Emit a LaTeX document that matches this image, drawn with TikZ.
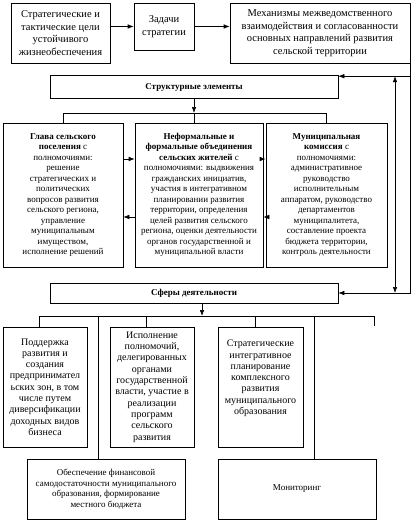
\documentclass[tikz,border=0pt]{standalone}
\usepackage{fontspec}
\setmainfont{Liberation Serif}
\usetikzlibrary{arrows.meta}
\usetikzlibrary{math}

\begin{document}
\begin{tikzpicture}[x=1pt,y=-1pt,
  box/.style={draw, line width=0.6pt, inner sep=1pt, align=center, font=\fontsize{9}{10.5}\selectfont},
  topbox/.style={box, font=\fontsize{10.5}{12.5}\selectfont},
  lowbox/.style={box, font=\fontsize{10}{11.3}\selectfont},
  conn/.style={line width=0.6pt},
  arr/.style={conn,-{Latex[length=6pt,width=4.5pt]}}]
\tikzmath{
\yS=113;%bus under structure
\yF=316;%bus under spheres
\xV=395;%feedback line
}
\useasboundingbox (0,0) rectangle (414,522);

% top row
\node[topbox, minimum width=99pt, minimum height=60pt] (goals) at (60.5,33) {Стратегические и\\тактические цели\\устойчивого\\жизнеобеспечения};
\node[topbox, minimum width=60pt, minimum height=47pt] (tasks) at (164,26.5) {Задачи\\стратегии};
\node[topbox, minimum width=180pt, minimum height=60pt] (mech) at (320,33) {Механизмы межведомственного\\взаимодействия и согласованности\\основных направлений развития\\сельской территории};

\draw[arr] (goals.east |- tasks.west) -- (tasks.west);
\draw[arr] (tasks.east) -- (tasks.east -| mech.west);

% structure
\node[box, minimum width=288pt, minimum height=23pt, font=\fontsize{9}{10.5}\selectfont\bfseries] (struct) at (194,87) {Структурные элементы};

\node[box, minimum width=120pt, minimum height=144pt] (glava) at (63,195) {\textbf{Глава сельского}\\\textbf{поселения} с\\полномочиями:\\решение\\стратегических и\\политических\\вопросов развития\\сельского региона,\\управление\\муниципальным\\имуществом,\\исполнение решений};
\node[box, minimum width=128pt, minimum height=144pt] (obyed) at (199,195) {\textbf{Неформальные и}\\\textbf{формальные объединения}\\\textbf{сельских жителей} с\\полномочиями: выдвижения\\гражданских инициатив,\\участия в интегративном\\планировании развития\\территории, определения\\целей развития сельского\\региона, оценки деятельности\\органов государственной и\\муниципальной власти};
\node[box, minimum width=121pt, minimum height=144pt] (komis) at (326.5,195) {\textbf{Муниципальная}\\\textbf{комиссия} с\\полномочиями:\\административное\\руководство\\исполнительным\\аппаратом, руководство\\департаментов\\муниципалитета,\\составление проекта\\бюджета территории,\\контроль деятельности};

\coordinate (sBus) at (0,\yS);
\draw[arr] (struct.south) -- (struct.south |- sBus);
\draw[conn] (glava.north |- sBus) -- (komis.north |- sBus);
\draw[conn] (glava.north |- sBus) -- (glava.north);
\draw[conn] (struct.south |- sBus) -- (struct.south |- obyed.north);
\draw[conn] (komis.north |- sBus) -- (komis.north);

\coordinate (rA) at (0,159);
\coordinate (rB) at (0,217);
\draw[arr] (glava.east |- rA) -- (obyed.west |- rA);
\draw[arr] (obyed.west |- rB) -- (glava.east |- rB);
\draw[arr] (obyed.east |- rA) -- (komis.west |- rA);
\draw[arr] (komis.west |- rB) -- (obyed.east |- rB);

% spheres
\node[box, minimum width=288pt, minimum height=20pt, font=\fontsize{9}{10.5}\selectfont\bfseries] (spheres) at (194,293) {Сферы деятельности};

% feedback on the right
\coordinate (inS) at ([yshift=-1pt]struct.north east);
\coordinate (vLine) at (\xV,0);
\draw[arr] (inS -| mech.east) -- (inS);
\draw[arr] (mech.south east) |- (spheres.east);
\draw[conn,{Latex[length=6pt,width=4.5pt]}-{Latex[length=6pt,width=4.5pt]}] (inS -| vLine) -- (spheres.east -| vLine);

\node[lowbox, minimum width=84pt, minimum height=120pt] (podd) at (45,387) {Поддержка\\развития и\\создания\\предпринимател\\ьских зон, в том\\числе путем\\диверсификации\\доходных видов\\бизнеса};
\node[lowbox, minimum width=84pt, minimum height=120pt] (ispoln) at (152,387) {Исполнение\\полномочий,\\делегированных\\органами\\государственной\\власти, участие в\\реализации\\программ\\сельского\\развития};
\node[lowbox, minimum width=85pt, minimum height=120pt] (plan) at (260.5,387) {Стратегические\\интегративное\\планирование\\комплексного\\развития\\муниципального\\образования\\[8pt]};
\node[box, minimum width=158pt, minimum height=60pt] (fin) at (106,489) {Обеспечение финансовой\\самодостаточности муниципального\\образования, формирование\\местного бюджета};
\node[box, minimum width=158pt, minimum height=60pt] (monit) at (297,489) {Мониторинг};

\coordinate (fIn) at (202,\yF);
\draw[arr] (spheres.south -| fIn) -- (fIn);
\foreach \n/\x/\b in {t1/39/podd, t2/98/fin, t3/146/ispoln, t4/255/plan, t5/314/monit}{
  \coordinate (\n) at (\x,\yF);
  \draw[conn] (\n) -- (\n |- \b.north);
}
\coordinate (t6) at (374,\yF);
\coordinate (t6end) at (374,326);
\draw[conn] (t1) -- (t6) -- (t6end);
\end{tikzpicture}
\end{document}
